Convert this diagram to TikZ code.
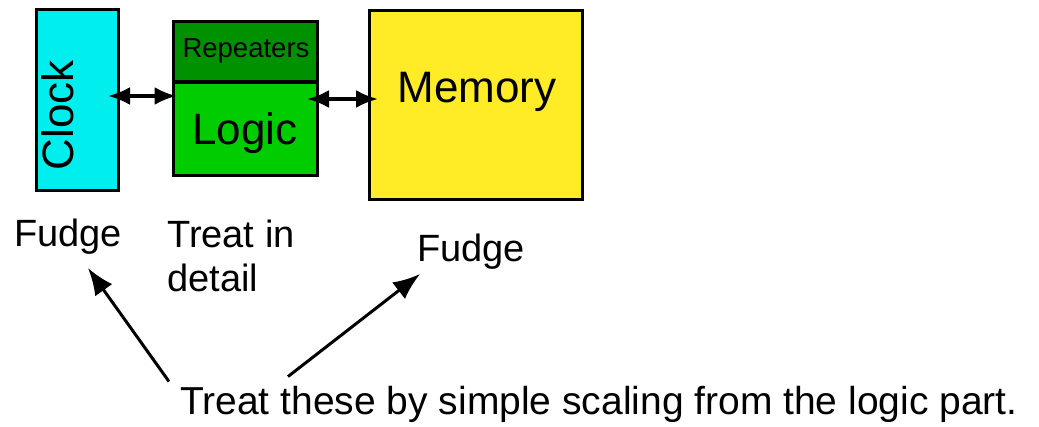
\documentclass[tikz,border=0pt]{standalone}
\usepackage{fontspec}
\setmainfont{Liberation Sans}
\usetikzlibrary{arrows.meta,calc}
\definecolor{clockc}{RGB}{0,238,238}
\definecolor{repc}{RGB}{0,145,0}
\definecolor{logicc}{RGB}{0,204,0}
\definecolor{memc}{RGB}{255,235,38}
\tikzset{
  box/.style={draw=black, line width=3.2pt, inner sep=0pt, outer sep=0pt},
  big/.style={font=\fontsize{44}{50}\selectfont, inner sep=0pt, anchor=base},
  lbl/.style={font=\fontsize{38}{44}\selectfont, inner sep=0pt},
  dbl/.style={line width=3.2pt, {Latex[length=22pt,width=18pt]}-{Latex[length=22pt,width=18pt]}},
  pointer/.style={line width=3pt, -{Latex[length=27pt,width=21pt]}},
}
\begin{document}
\begin{tikzpicture}[x=1pt,y=-1pt]
\path[use as bounding box] (0,0) rectangle (1039,427);
% boxes
\node[box, fill=clockc, minimum width=82pt, minimum height=181pt] (clock) at (77.5,100) {};
\node[box, fill=repc, minimum width=144pt, minimum height=60.5pt] (rep) at (245.5,51.75) {};
\node[box, fill=logicc, minimum width=144pt, minimum height=93.5pt] (logic) at (245.5,128.75) {};
\node[box, fill=memc, minimum width=213pt, minimum height=189pt] (mem) at (476,105) {};
% box texts
\node[big, rotate=90] (clocktxt) at (73,115) {Clock};
\node[inner sep=0pt, anchor=base, font=\fontsize{27.5}{32}\selectfont] (reptxt) at (246,58) {Repeaters};
\node[big] (logictxt) at (245,145) {Logic};
\node[big] (memtxt) at (477,103) {Memory};
% double arrows
\coordinate (a1) at ($(clock.east)+(-10.5,-4)$);
\coordinate (b1) at ($(a1 -| logic.west)+(3,0)$);
\draw[dbl] (a1) -- (b1);
\coordinate (a2) at ($(logic.east)+(-10.5,-29.75)$);
\coordinate (b2) at ($(a2 -| mem.west)+(8.5,0)$);
\draw[dbl] (a2) -- (b2);
% labels
\node[lbl, anchor=base] (fudge1) at (68,247) {Fudge};
\node[lbl, anchor=base west] (treat1) at (167,248) {Treat in};
\node[lbl, anchor=base west] (treat2) at (167,292) {detail};
\node[lbl, anchor=base] (fudge2) at (471,262) {Fudge};
\node[lbl, anchor=base west, font=\fontsize{39}{44}\selectfont] (note) at (180,415) {Treat these by simple scaling from the logic part.};
% pointers
\draw[pointer] ($(note.north west)+(-11,-5)$) -- ($(fudge1.south)+(20,13)$);
\draw[pointer] ($(note.north west)+(108,-10)$) -- ($(fudge2.south)+(-51,4)$);
\end{tikzpicture}
\end{document}
